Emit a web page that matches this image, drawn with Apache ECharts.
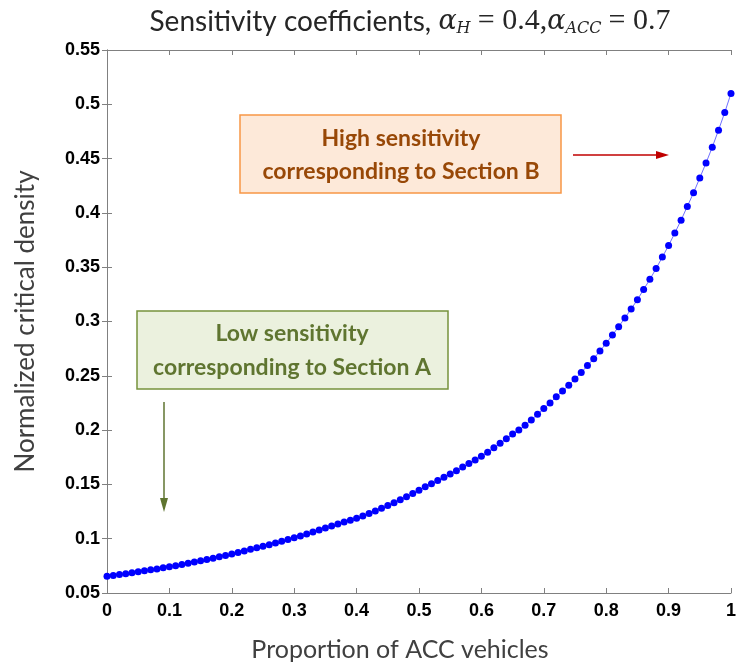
<!DOCTYPE html>
<html>
	<head>
		<meta charset="utf-8">
		<title>Sensitivity coefficients</title>
		<script src="https://cdn.jsdelivr.net/npm/echarts@6/dist/echarts.min.js"></script>
		<style>
			html, body { margin: 0; padding: 0; background: #fff; }
			#chart { width: 739px; height: 667px; }
		</style>
	</head>
	<body>
		<div id="chart"></div>
	</body>
	<script>
	// proportion of ACC vehicles (x)
	var proportion = [
		0.00, 0.01, 0.02, 0.03, 0.04, 0.05, 0.06, 0.07, 0.08, 0.09,
		0.10, 0.11, 0.12, 0.13, 0.14, 0.15, 0.16, 0.17, 0.18, 0.19,
		0.20, 0.21, 0.22, 0.23, 0.24, 0.25, 0.26, 0.27, 0.28, 0.29,
		0.30, 0.31, 0.32, 0.33, 0.34, 0.35, 0.36, 0.37, 0.38, 0.39,
		0.40, 0.41, 0.42, 0.43, 0.44, 0.45, 0.46, 0.47, 0.48, 0.49,
		0.50, 0.51, 0.52, 0.53, 0.54, 0.55, 0.56, 0.57, 0.58, 0.59,
		0.60, 0.61, 0.62, 0.63, 0.64, 0.65, 0.66, 0.67, 0.68, 0.69,
		0.70, 0.71, 0.72, 0.73, 0.74, 0.75, 0.76, 0.77, 0.78, 0.79,
		0.80, 0.81, 0.82, 0.83, 0.84, 0.85, 0.86, 0.87, 0.88, 0.89,
		0.90, 0.91, 0.92, 0.93, 0.94, 0.95, 0.96, 0.97, 0.98, 0.99,
		1.00
	];
	// normalized critical density (y)
	var density = [
		0.0655, 0.0662, 0.0670, 0.0678, 0.0686, 0.0695, 0.0704, 0.0713, 0.0722, 0.0732,
		0.0742, 0.0752, 0.0763, 0.0774, 0.0785, 0.0796, 0.0808, 0.0820, 0.0833, 0.0846,
		0.0860, 0.0873, 0.0887, 0.0902, 0.0916, 0.0930, 0.0945, 0.0960, 0.0976, 0.0992,
		0.1008, 0.1025, 0.1043, 0.1061, 0.1080, 0.1098, 0.1117, 0.1135, 0.1153, 0.1171,
		0.1189, 0.1210, 0.1232, 0.1255, 0.1280, 0.1306, 0.1330, 0.1358, 0.1386, 0.1416,
		0.1447, 0.1478, 0.1506, 0.1535, 0.1565, 0.1595, 0.1626, 0.1660, 0.1692, 0.1725,
		0.1760, 0.1797, 0.1837, 0.1878, 0.1920, 0.1963, 0.2000, 0.2045, 0.2094, 0.2145,
		0.2198, 0.2250, 0.2307, 0.2360, 0.2414, 0.2470, 0.2530, 0.2594, 0.2658, 0.2728,
		0.2800, 0.2875, 0.2952, 0.3033, 0.3115, 0.3200, 0.3295, 0.3388, 0.3488, 0.3593,
		0.3700, 0.3815, 0.3933, 0.4060, 0.4185, 0.4322, 0.4460, 0.4605, 0.4762, 0.4925,
		0.5100
	];

	var xTicks = { min: 0, max: 1, step: 0.1 };
	var yTicks = { min: 0.05, max: 0.55, step: 0.05 };

	var points = [];
	for (var i = 0; i < proportion.length; i++) {
		points.push([proportion[i], density[i]]);
	}

	var axisGray = '#808080';
	var tickFont = { color: '#000', fontFamily: 'Liberation Sans', fontWeight: 'bold', fontSize: 18 };

	var chart = echarts.init(document.getElementById('chart'));
	var option = {
		animation: false,
		backgroundColor: '#fff',
		title: {
			left: 405,
			top: 1,
			textAlign: 'center',
			text: '{t|Sensitivity coefficients, }{m|α}{s|H}{t| }{n|= 0.4,}{m|α}{s|ACC}{t| }{n|= 0.7}',
			textStyle: {
				fontWeight: 'normal',
				rich: {
					t: { fontFamily: 'Lato', fontSize: 28, fontWeight: 'normal', color: '#262626' },
					m: { fontFamily: 'DejaVu Serif', fontStyle: 'italic', fontWeight: 'normal', fontSize: 27, color: '#262626' },
					n: { fontFamily: 'Liberation Serif', fontWeight: 'normal', fontSize: 30, color: '#262626' },
					s: { fontFamily: 'DejaVu Serif', fontStyle: 'italic', fontWeight: 'normal', fontSize: 16, color: '#262626', verticalAlign: 'bottom', padding: [15, 0, 0, 0] }
				}
			}
		},
		grid: { left: 107, right: 7, top: 50, bottom: 70 },
		xAxis: [{
			type: 'value',
			min: xTicks.min, max: xTicks.max, interval: xTicks.step,
			name: 'Proportion of ACC vehicles',
			nameLocation: 'middle',
			nameGap: 44,
			nameTextStyle: { fontFamily: 'Lato', fontSize: 25, color: '#404040', padding: [0, 38, 0, 0] },
			axisLine: { lineStyle: { color: axisGray } },
			axisTick: { inside: true, length: 5, lineStyle: { color: axisGray } },
			axisLabel: Object.assign({ margin: 9, formatter: function (v) { return String(+v.toFixed(1)); } }, tickFont),
			splitLine: { show: false }
		}, {
			type: 'value', position: 'top',
			min: xTicks.min, max: xTicks.max, interval: xTicks.step,
			axisLine: { lineStyle: { color: axisGray } },
			axisTick: { inside: true, length: 5, lineStyle: { color: axisGray } },
			axisLabel: { show: false },
			splitLine: { show: false }
		}],
		yAxis: [{
			type: 'value',
			min: yTicks.min, max: yTicks.max, interval: yTicks.step,
			name: 'Normalized critical density',
			nameLocation: 'middle',
			nameGap: 68,
			nameTextStyle: { fontFamily: 'Lato', fontSize: 26, color: '#404040' },
			axisLine: { lineStyle: { color: axisGray } },
			axisTick: { inside: true, length: 5, lineStyle: { color: axisGray } },
			axisLabel: Object.assign({ margin: 7, formatter: function (v) { return String(+v.toFixed(2)); } }, tickFont),
			splitLine: { show: false }
		}, {
			type: 'value', position: 'right',
			min: yTicks.min, max: yTicks.max, interval: yTicks.step,
			axisLine: { lineStyle: { color: axisGray } },
			axisTick: { inside: true, length: 5, lineStyle: { color: axisGray } },
			axisLabel: { show: false },
			splitLine: { show: false }
		}],
		series: [{
			type: 'line',
			xAxisIndex: 0,
			yAxisIndex: 0,
			data: points,
			symbol: 'circle',
			symbolSize: 7,
			itemStyle: { color: '#0000ff' },
			lineStyle: { color: '#7070ff', width: 1 }
		}],
		graphic: [
			// section B note
			{ type: 'rect', shape: { x: 240, y: 115, width: 321, height: 78 },
				style: { fill: '#fde9d9', stroke: '#f79646', lineWidth: 1.5 } },
			{ type: 'text', x: 401, y: 155,
				style: { text: 'High sensitivity\ncorresponding to Section B', textAlign: 'center', textVerticalAlign: 'middle',
					font: 'bold 23px Lato', fill: '#984807', lineHeight: 33 } },
			{ type: 'line', shape: { x1: 573, y1: 155, x2: 658, y2: 155 }, style: { stroke: '#c00000', lineWidth: 1.5 } },
			{ type: 'polygon', shape: { points: [[669, 155], [656, 151], [656, 159]] }, style: { fill: '#c00000' } },
			// section A note
			{ type: 'rect', shape: { x: 137, y: 311, width: 311, height: 78 },
				style: { fill: '#ebf1de', stroke: '#77933c', lineWidth: 1.5 } },
			{ type: 'text', x: 292, y: 351,
				style: { text: 'Low sensitivity\ncorresponding to Section A', textAlign: 'center', textVerticalAlign: 'middle',
					font: 'bold 23px Lato', fill: '#5f7530', lineHeight: 34 } },
			{ type: 'line', shape: { x1: 164, y1: 402, x2: 164, y2: 500 }, style: { stroke: '#5f7530', lineWidth: 1.5 } },
			{ type: 'polygon', shape: { points: [[164, 512], [160, 498], [168, 498]] }, style: { fill: '#5f7530' } }
		]
	};
	chart.setOption(option);
	</script>
</html>
